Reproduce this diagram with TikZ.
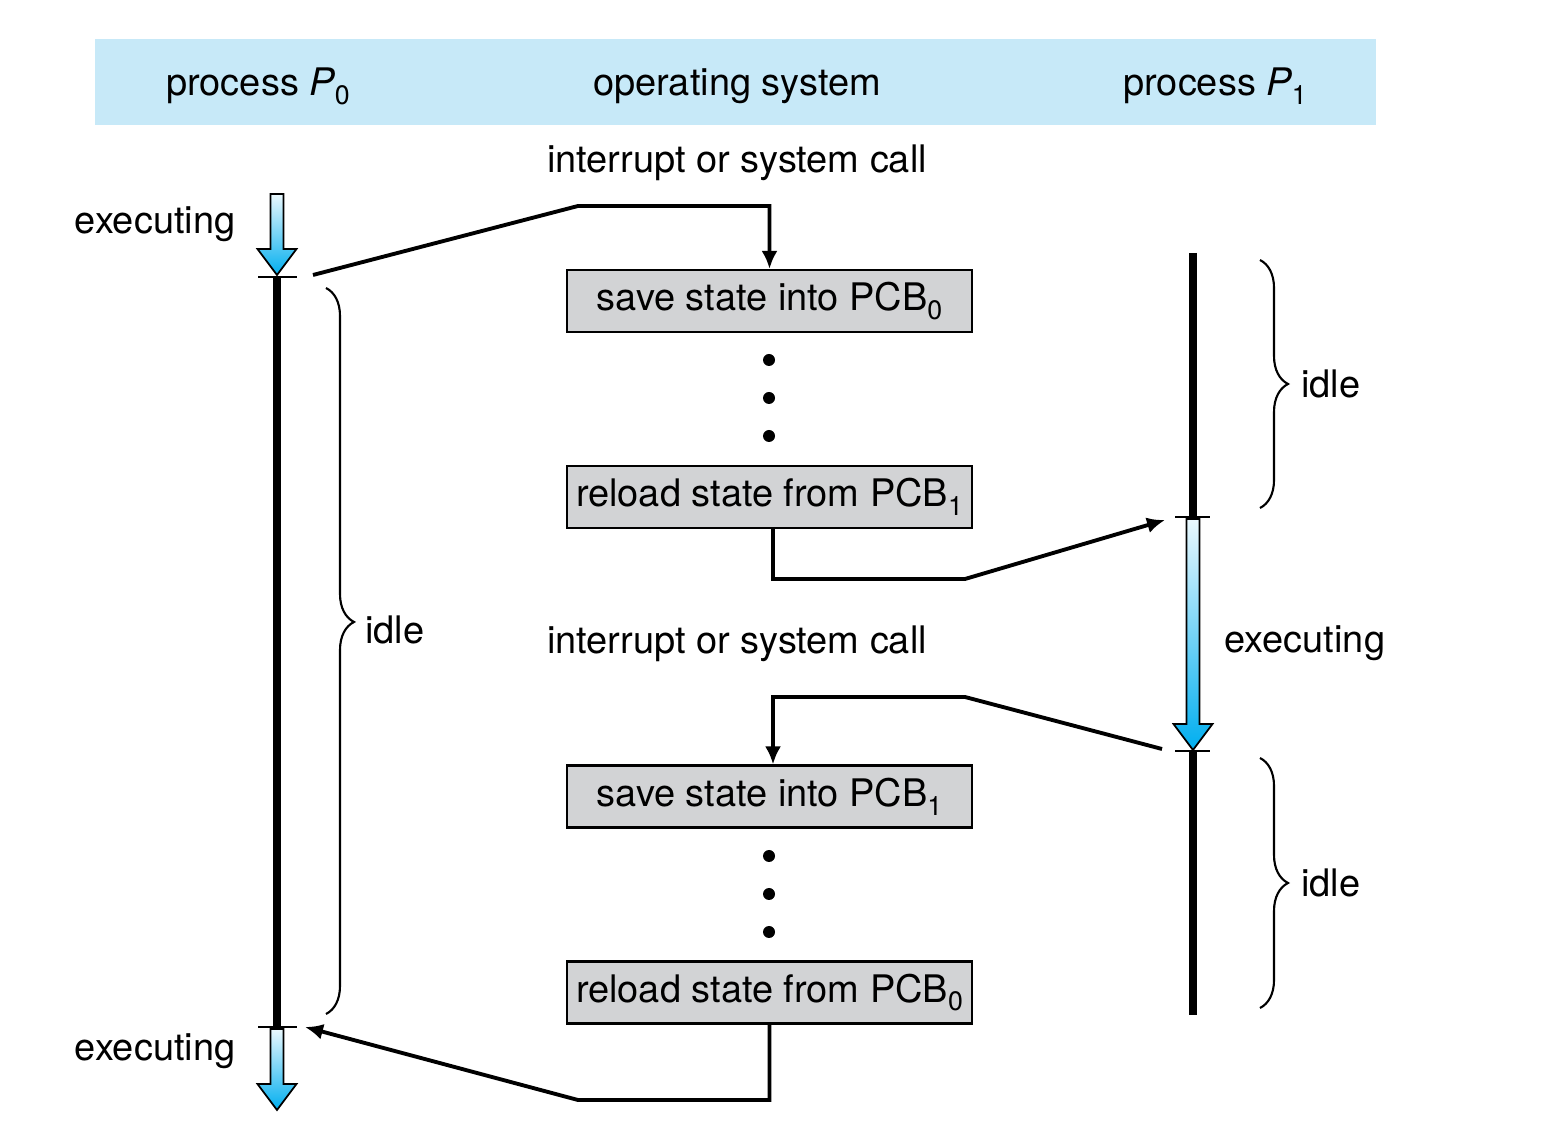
\documentclass[tikz,border=0pt]{standalone}
\usepackage{fontspec}
\setmainfont{TeX Gyre Heros}
\usepackage{tikz}
\usetikzlibrary{arrows.meta, positioning, calc, decorations.pathreplacing}

\definecolor{headblue}{RGB}{199,233,248}
\definecolor{execblue}{RGB}{0,174,239}
\definecolor{boxgray}{RGB}{210,211,213}

% lowered subscript
\newcommand{\lowsub}[1]{\raisebox{-0.45ex}{\fontsize{7.6}{8}\selectfont #1}}
% execution arrow: x, top y, tip y
\newcommand{\execarrow}[3]{%
  \shade[top color=execblue!8, bottom color=execblue, draw=black, line width=0.5pt]
    (#1,#3) -- ++(-0.195,0.26) -- ++(0.13,0) -- (#1-0.065,#2)
    -- (#1+0.065,#2) -- (#1+0.065,#3+0.26) -- ++(0.13,0) -- cycle;}

\begin{document}
\begin{tikzpicture}[
    font=\fontsize{10.8}{13}\selectfont,
    st/.style={draw, line width=0.6pt, fill=boxgray, minimum width=4.05cm,
               minimum height=0.62cm, inner sep=2pt},
    lbl/.style={inner sep=0pt},
    flow/.style={-{Latex[length=0.18cm, width=0.16cm]}, line width=1.1pt},
    tl/.style={line width=2.3pt},
    tick/.style={line width=0.6pt},
    br/.style={decorate, decoration={brace, amplitude=0.28cm, #1}, line width=0.6pt},
    br/.default={aspect=0.5},
]
\useasboundingbox (0,0) rectangle (15.42,-11.27);
% header band
\fill[headblue] (0.95,-0.39) rectangle (13.76,-1.25);
\node (hp0) at (2.58,-0.865) {process {\itshape P}\lowsub{0}};
\node (hos) at (7.37,-0.865) {operating system};
\node (hp1) at (12.15,-0.865) {process {\itshape P}\lowsub{1}};

% operating system boxes
\node[st] (save0)   at (7.695,-3.01)  {save state into PCB\lowsub{0}};
\node[st] (reload1) at (7.695,-4.97)  {reload state from PCB\lowsub{1}};
\node[st] (save1)   at (7.695,-7.965) {save state into PCB\lowsub{1}};
\node[st] (reload0) at (7.695,-9.925) {reload state from PCB\lowsub{0}};
\foreach \y in {3.60,3.98,4.36,8.56,8.94,9.32}
  \fill (7.69,-\y) circle (0.06);
\node (int0) at (7.37,-1.625) {interrupt or system call};
\node (int1) at (7.37,-6.435) {interrupt or system call};

% process P0 time line
\draw[tl] (2.77,-2.77) -- (2.77,-10.27);
\draw[tick] (2.58,-2.77) -- (2.97,-2.77);
\draw[tick] (2.58,-10.27) -- (2.97,-10.27);
\execarrow{2.77}{-1.94}{-2.75}
\execarrow{2.77}{-10.29}{-11.10}
\node[lbl, anchor=east] (ex0) at (2.36,-2.245) {executing};
\node[lbl, anchor=east] (ex0b) at (2.36,-10.515) {executing};
\draw[br={aspect=0.46}] (3.26,-2.88) -- node[pos=0.46, right=0.38cm, lbl, yshift=-0.08cm] (idle0) {idle} (3.26,-10.14);

% process P1 time line
\draw[tl] (11.93,-2.53) -- (11.93,-5.17);
\draw[tl] (11.93,-7.51) -- (11.93,-10.15);
\draw[tick] (11.75,-5.17) -- (12.10,-5.17);
\draw[tick] (11.75,-7.51) -- (12.10,-7.51);
\execarrow{11.93}{-5.19}{-7.50}
\node[lbl, anchor=west] (ex1) at (12.24,-6.435) {executing};
\draw[br] (12.60,-2.60) -- node[midway, right=0.4cm, lbl] (idle1) {idle} (12.60,-5.08);
\draw[br] (12.60,-7.58) -- node[midway, right=0.4cm, lbl] (idle2) {idle} (12.60,-10.08);

% switching connectors
\coordinate (p0out) at (3.13,-2.75);
\coordinate (p1in)  at (11.65,-5.20);
\coordinate (p1out) at (11.62,-7.49);
\coordinate (p0in)  at (3.05,-10.27);
\draw[flow] (p0out) -- (5.78,-2.06) -| (save0.north);
\draw[flow] ([xshift=0.035cm]reload1.south) |- (9.65,-5.79) -- (p1in);
\draw[flow] (p1out) -- (9.65,-6.97) -| ([xshift=0.035cm]save1.north);
\draw[flow] (reload0.south) |- (5.78,-11.00) -- (p0in);
\end{tikzpicture}
\end{document}
